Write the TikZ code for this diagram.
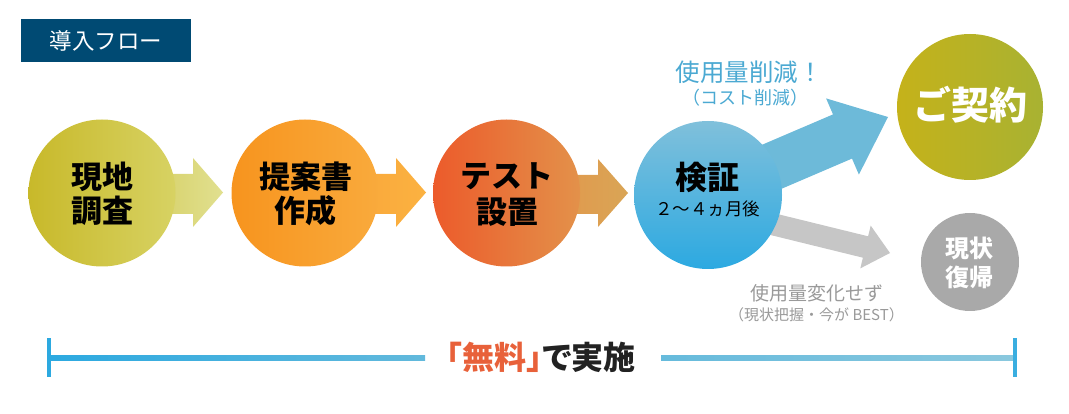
\documentclass[tikz,border=0pt]{standalone}
\usepackage{fontspec}
\setmainfont{Noto Sans CJK JP}
\definecolor{navy}{HTML}{004A73}
\definecolor{aL}{HTML}{C8B92A}\definecolor{aR}{HTML}{D7D263}
\definecolor{aaL}{HTML}{D6D066}\definecolor{aaR}{HTML}{E1E090}
\definecolor{bL}{HTML}{F7941E}\definecolor{bR}{HTML}{F9AA3C}
\definecolor{bbL}{HTML}{F9A73A}\definecolor{bbR}{HTML}{FBB241}
\definecolor{cL}{HTML}{EC5B2B}\definecolor{cR}{HTML}{E3914A}
\definecolor{ccL}{HTML}{E2984C}\definecolor{ccR}{HTML}{D9A556}
\definecolor{dT}{HTML}{80C0DB}\definecolor{dB}{HTML}{2CA9E1}
\definecolor{blueArrow}{HTML}{6DBAD9}
\definecolor{eL}{HTML}{C5B21A}\definecolor{eR}{HTML}{A8B232}
\definecolor{grayArrow}{HTML}{C6C6C6}
\definecolor{grayCircle}{HTML}{A9A9A9}
\definecolor{lblBlue}{HTML}{4BA9D2}
\definecolor{lblGray}{HTML}{999999}
\definecolor{lineL}{HTML}{2CA9E0}\definecolor{lineM}{HTML}{62B9DC}\definecolor{lineR}{HTML}{8AC8DE}
\definecolor{freeRed}{HTML}{E8613A}
\definecolor{ink}{HTML}{222222}
\begin{document}
\begin{tikzpicture}[x=1pt,y=-1pt,
  steptext/.style={font=\fontsize{31}{34}\selectfont\bfseries, align=center, text=black, inner sep=0pt},
  whitetext/.style={text=white, align=center, inner sep=0pt},
  barline/.style={line width=4pt}]
\useasboundingbox (0,0) rectangle (1069,414);
% header box
\node[fill=navy, minimum width=170pt, minimum height=43pt, inner sep=0pt, text=white,
  font=\fontsize{22.5}{24}\selectfont] (hdr) at (106,40.5) {導入フロー};
% block arrows between steps
\shade[left color=aaL, right color=aaR] (150,174) -- (193,174) -- (193,158) -- (223,192.5) -- (193,227) -- (193,214) -- (150,214) -- cycle;
\shade[left color=bbL, right color=bbR] (353,174) -- (396,174) -- (396,158) -- (426,192.5) -- (396,227) -- (396,214) -- (353,214) -- cycle;
\shade[left color=ccL, right color=ccR] (555,175) -- (598,175) -- (598,159) -- (628,193) -- (598,227) -- (598,214) -- (555,214) -- cycle;
% outcome arrows
\fill[blueArrow] (731.9,157.7) -- (833,114.4) -- (826.1,98.4) -- (888,117) -- (858.9,174.6) -- (852,158.6) -- (750.9,201.9) -- cycle;
\fill[grayArrow] (751.6,207.7) -- (868.1,236.3) -- (870.7,225.6) -- (890,253) -- (860.3,268.4) -- (862.9,257.7) -- (746.4,229.1) -- cycle;
% circles
\shade[left color=aL, right color=aR] (102,193) circle (73.5);
\shade[left color=bL, right color=bR] (305,193) circle (73.5);
\shade[left color=cL, right color=cR] (506.5,193) circle (73.5);
\shade[top color=dT, bottom color=dB] (708,195) circle (74);
\shade[left color=eL, right color=eR] (970,107) circle (73);
\fill[grayCircle] (970,262) circle (49);
% circle texts
\node[steptext] (t1) at (102,194) {現地\\調査};
\node[steptext] (t2) at (305.5,194) {提案書\\作成};
\node[steptext, font=\fontsize{31}{36}\selectfont\bfseries] (t3) at (507,195) {テスト\\設置};
\node[steptext, font=\fontsize{32}{34}\selectfont\bfseries] (t4) at (707,177) {検証};
\node[inner sep=0pt, font=\fontsize{17.5}{19}\selectfont] (t4b) at (707.5,208.5) {２～４ヵ月後};
\node[whitetext, font=\fontsize{38}{40}\selectfont\bfseries] (t5) at (970,104.5) {ご契約};
\node[whitetext, font=\fontsize{24}{29}\selectfont\bfseries] (t6) at (969.5,262.5) {現状\\復帰};
% labels
\node[inner sep=0pt, text=lblBlue, font=\fontsize{24.5}{26}\selectfont] (l1) at (749,72) {使用量削減！};
\node[inner sep=0pt, text=lblBlue, font=\fontsize{18}{20}\selectfont] (l2) at (745,97.5) {（コスト削減）};
\node[inner sep=0pt, text=lblGray, font=\fontsize{19}{21}\selectfont] (l3) at (817,293) {使用量変化せず};
\node[inner sep=0pt, text=lblGray, font=\fontsize{15}{17}\selectfont] (l4) at (816.5,315) {（現状把握・今が BEST）};
% bottom bar
\node[inner sep=0pt, font=\fontsize{32}{34}\selectfont\bfseries\addfontfeature{RawFeature=+palt}] (free) at (541,357) {\textcolor{freeRed}{「無料」}\textcolor{ink}{で実施}};
\coordinate (lbarT) at (48.5,338); \coordinate (lbarB) at (48.5,377);
\coordinate (rbarT) at (1014.5,338); \coordinate (rbarB) at (1014.5,377);
\coordinate (lstart) at (48.5,358); \coordinate (lend) at (425,358);
\coordinate (rstart) at (661,358); \coordinate (rend) at (1014.5,358);
\shade[left color=lineL, right color=lineM] (lstart) ++(0,-2.6) rectangle (425,360.6);
\shade[left color=lineM!90!lineR, right color=lineR] (rstart) ++(0,-2.6) rectangle (1014.5,360.6);
\draw[barline, lineL] (lbarT) -- (lbarB);
\draw[barline, lineL!85!lineR] (rbarT) -- (rbarB);
\end{tikzpicture}
\end{document}
